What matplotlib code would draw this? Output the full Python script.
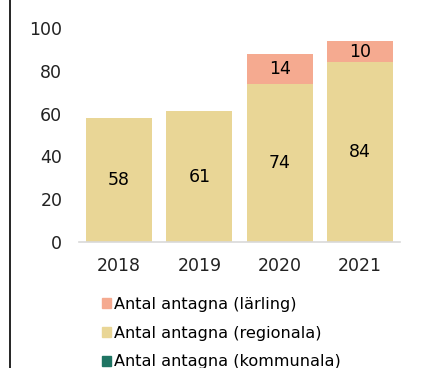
import matplotlib
matplotlib.use('Agg')
import numpy as np
import matplotlib.pyplot as plt
from matplotlib.patches import Patch
from matplotlib.lines import Line2D

plt.rcParams['font.family'] = ['DejaVu Sans']

years = ['2018', '2019', '2020', '2021']
kommunala = [0, 0, 0, 0]
regionala = [58, 61, 74, 84]
larling = [0, 0, 14, 10]

c_komm = '#1F7563'
c_reg = '#E9D696'
c_larl = '#F5AA90'

fig = plt.figure(figsize=(4.43, 3.68), dpi=100)
ax = fig.add_axes([79 / 443, 1 - 242 / 368, 321 / 443, 214 / 368])

x = np.arange(len(years))
w = 0.82
komm = np.array(kommunala)
reg = np.array(regionala)
larl = np.array(larling)

ax.bar(x, komm, w, color=c_komm)
ax.bar(x, reg, w, bottom=komm, color=c_reg)
ax.bar(x, larl, w, bottom=komm + reg, color=c_larl)

# value labels in the middle of each segment
for i in range(len(years)):
    if reg[i] > 0:
        ax.text(x[i], komm[i] + reg[i] / 2, str(reg[i]), ha='center', va='center',
                fontsize=12.5, color='black')
    if larl[i] > 0:
        ax.text(x[i], komm[i] + reg[i] + larl[i] / 2, str(larl[i]), ha='center',
                va='center', fontsize=12.5, color='black')

ax.set_xlim(-0.5, 3.5)
ax.set_ylim(0, 100)
ax.set_yticks(np.arange(0, 101, 20))
ax.set_xticks(x)
ax.set_xticklabels(years)
ax.tick_params(axis='both', length=0, labelsize=12.5, colors='#222222')
ax.tick_params(axis='y', pad=12)
ax.tick_params(axis='x', pad=11)
for s in ['top', 'right', 'left']:
    ax.spines[s].set_visible(False)
ax.spines['bottom'].set_color('#D9D9D9')
ax.spines['bottom'].set_linewidth(1.2)

handles = [Patch(color=c_larl), Patch(color=c_reg), Patch(color=c_komm)]
labels = ['Antal antagna (lärling)', 'Antal antagna (regionala)',
          'Antal antagna (kommunala)']
fig.legend(handles, labels, loc='upper left', bbox_to_anchor=(102 / 443, 1 - 297 / 368),
           frameon=False, fontsize=11.6, handlelength=0.55, handleheight=0.55,
           handletextpad=0.2, labelspacing=0.85, borderaxespad=0, borderpad=0)

fig.add_artist(Line2D([9.5 / 443, 9.5 / 443], [0, 1], color='black', linewidth=1.2,
                      transform=fig.transFigure))

fig.savefig('out.png', dpi=100)
